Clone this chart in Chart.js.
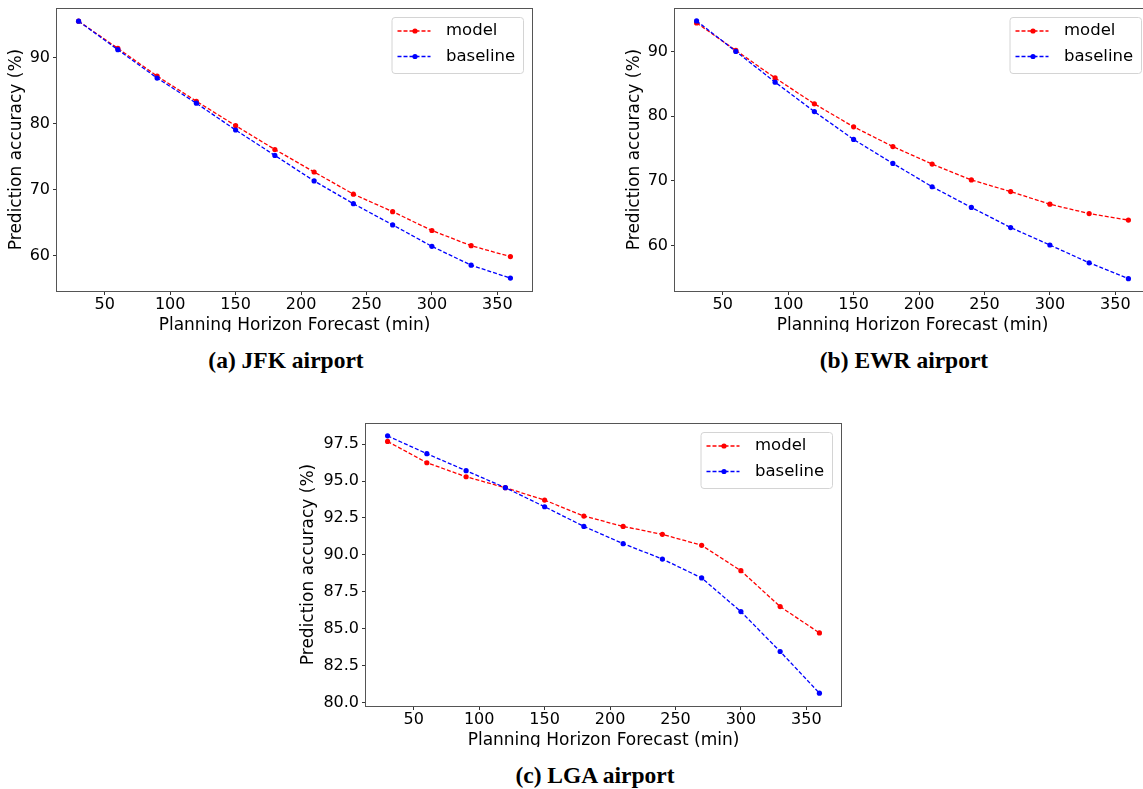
<!DOCTYPE html>
<html>
<head>
<meta charset="utf-8">
<script src="https://cdn.jsdelivr.net/npm/chart.js@4.4.0/dist/chart.umd.min.js"></script>
<style>
  html, body { margin: 0; padding: 0; background: #fff; overflow: hidden; width: 1143px; height: 789px; }
  .panel { position: absolute; overflow: hidden; }
  .caption { position: absolute; width: 300px; text-align: center; font: bold 23.5px "Liberation Serif", "Times New Roman", serif; line-height: 1; color: #000; }
</style>
</head>
<body>
<div class="panel" style="left:0;top:0;width:545px;height:332px"><canvas id="jfk" width="545" height="345"></canvas></div>
<div class="panel" style="left:618px;top:0;width:545px;height:332px"><canvas id="ewr" width="545" height="345"></canvas></div>
<div class="panel" style="left:292px;top:415px;width:562px;height:332px"><canvas id="lga" width="562" height="345"></canvas></div>
<div class="caption" style="left:136px;top:349px">(a) JFK airport</div>
<div class="caption" style="left:754px;top:349px">(b) EWR airport</div>
<div class="caption" style="left:445px;top:764px">(c) LGA airport</div>
<script>
// planning horizon (min)
const minutes = [30, 60, 90, 120, 150, 180, 210, 240, 270, 300, 330, 360];

const jfkModel    = [95.5, 91.4, 87.2, 83.4, 79.7, 76.1, 72.7, 69.35, 66.7, 63.85, 61.55, 59.9];
const jfkBaseline = [95.5, 91.2, 86.9, 83.1, 79.05, 75.2, 71.35, 67.9, 64.7, 61.45, 58.6, 56.65];

const ewrModel    = [94.4, 90.15, 85.9, 81.9, 78.35, 75.3, 72.6, 70.15, 68.35, 66.4, 64.95, 63.95];
const ewrBaseline = [94.7, 90.0, 85.25, 80.7, 76.4, 72.7, 69.1, 65.9, 62.8, 60.1, 57.35, 54.9];

const lgaModel    = [97.68, 96.24, 95.29, 94.55, 93.71, 92.63, 91.93, 91.39, 90.65, 88.93, 86.5, 84.72];
const lgaBaseline = [98.06, 96.85, 95.7, 94.55, 93.26, 91.93, 90.76, 89.72, 88.44, 86.16, 83.46, 80.64];

const xTicks = [50, 100, 150, 200, 250, 300, 350];
const jfkTicks = [60, 70, 80, 90];
const ewrTicks = [60, 70, 80, 90];
const lgaTicks = [80, 82.5, 85, 87.5, 90, 92.5, 95, 97.5];

const FONT = 'DejaVu Sans';

// black frame round the plot area
const frame = {
  id: 'frame',
  afterDraw(chart) {
    const { ctx, chartArea: a } = chart;
    ctx.save();
    ctx.strokeStyle = '#555';
    ctx.lineWidth = 1;
    ctx.strokeRect(Math.round(a.left) - 0.5, Math.round(a.top) + 0.5, Math.round(a.width) + 1, Math.round(a.height));
    ctx.restore();
  }
};

// matplotlib style legend box, upper right inside the axes
const boxLegend = {
  id: 'boxLegend',
  afterDraw(chart) {
    const { ctx, chartArea: a } = chart;
    const w = 131.5, h = 56;
    const x = a.right - 9 - w, y = a.top + 9;
    ctx.save();
    ctx.beginPath();
    ctx.roundRect(x + 0.5, y + 0.5, w, h, 3);
    ctx.fillStyle = 'rgba(255,255,255,0.8)';
    ctx.fill();
    ctx.strokeStyle = '#d4d4d4';
    ctx.lineWidth = 1;
    ctx.stroke();
    chart.data.datasets.forEach((ds, i) => {
      const cy = y + 14 + i * 25.5;
      ctx.strokeStyle = ds.borderColor;
      ctx.lineWidth = ds.borderWidth;
      ctx.setLineDash(ds.borderDash);
      ctx.beginPath();
      ctx.moveTo(x + 6, cy);
      ctx.lineTo(x + 39, cy);
      ctx.stroke();
      ctx.setLineDash([]);
      ctx.fillStyle = ds.borderColor;
      ctx.beginPath();
      ctx.arc(x + 23.5, cy, 2.6, 0, Math.PI * 2);
      ctx.fill();
      ctx.fillStyle = '#000';
      ctx.font = '16.5px "' + FONT + '"';
      ctx.textBaseline = 'middle';
      ctx.fillText(ds.label, x + 54.5, cy);
    });
    ctx.restore();
  }
};

const series = (label, values, color, order) => ({
  label,
  data: values.map((v, i) => ({ x: minutes[i], y: v })),
  borderColor: color,
  backgroundColor: color,
  borderWidth: 1.3,
  borderDash: [4, 2],
  pointRadius: 2.6,
  pointBorderWidth: 0,
  pointBackgroundColor: color,
  order,
});

const makeChart = (id, model, baseline, yMin, yMax, yTicks, yWidth, decimals) => {
  new Chart(document.getElementById(id), {
    type: 'line',
    data: {
      datasets: [
        series('model', model, '#ff0000', 1),
        series('baseline', baseline, '#0000ff', 0),
      ],
    },
    options: {
      responsive: false,
      animation: false,
      devicePixelRatio: 1,
      layout: { padding: { top: 8, right: 13, left: 0, bottom: 0 } },
      plugins: { legend: { display: false }, tooltip: { enabled: false } },
      scales: {
        x: {
          type: 'linear',
          min: 13.5,
          max: 376.5,
          afterBuildTicks: s => { s.ticks = xTicks.map(value => ({ value })); },
          afterFit: s => { s.height = 54; s.paddingLeft = 0; s.paddingRight = 0; },
          grid: { drawOnChartArea: false, tickLength: 4, color: '#333' },
          border: { display: false },
          ticks: { color: '#000', padding: 0.5, maxRotation: 0, font: { family: FONT, size: 16 } },
          title: {
            display: true,
            text: 'Planning Horizon Forecast (min)',
            color: '#000',
            padding: { top: 0, bottom: 9.2 },
            font: { family: FONT, size: 17 },
          },
        },
        y: {
          min: yMin,
          max: yMax,
          afterBuildTicks: s => { s.ticks = yTicks.map(value => ({ value })); },
          afterFit: s => { s.width = yWidth; s.paddingTop = 0; s.paddingBottom = 0; },
          grid: { drawOnChartArea: false, tickLength: 4, color: '#333' },
          border: { display: false },
          ticks: {
            color: '#000',
            padding: 3,
            font: { family: FONT, size: 16 },
            callback: v => v.toFixed(decimals),
          },
          title: {
            display: true,
            text: 'Prediction accuracy (%)',
            color: '#000',
            padding: { top: 6.4, bottom: 0 },
            font: { family: FONT, size: 17 },
          },
        },
      },
    },
    plugins: [frame, boxLegend],
  });
};

makeChart('jfk', jfkModel, jfkBaseline, 54.7, 97.5, jfkTicks, 57, 0);
makeChart('ewr', ewrModel, ewrBaseline, 53.0, 96.7, ewrTicks, 57, 0);
makeChart('lga', lgaModel, lgaBaseline, 79.77, 98.93, lgaTicks, 74, 1);
</script>
</body>
</html>
